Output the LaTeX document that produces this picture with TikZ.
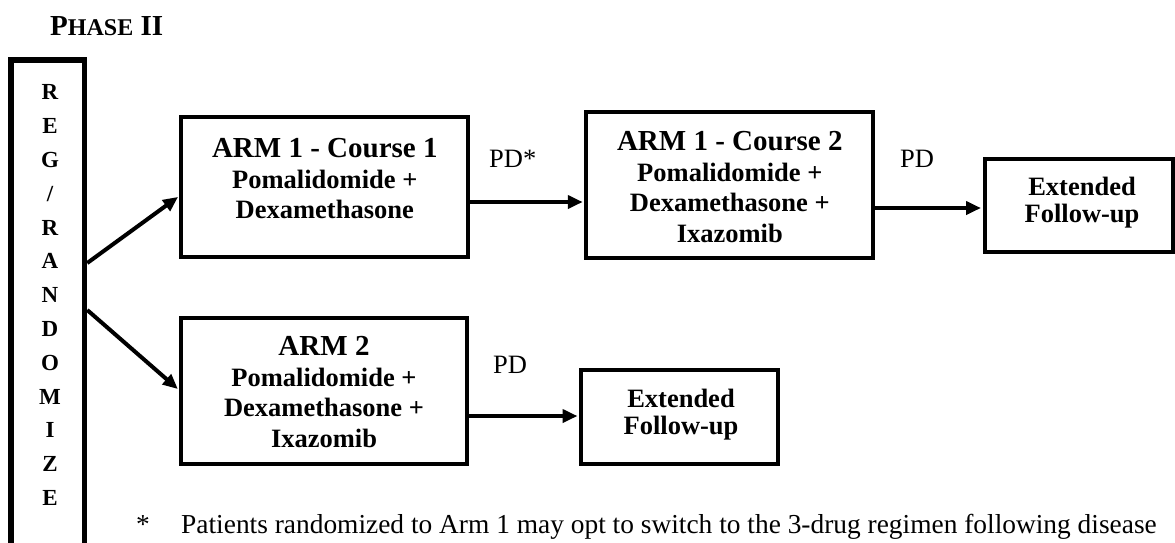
\documentclass[tikz,border=0pt]{standalone}
\usepackage{fontspec}
\setmainfont{Liberation Serif}
\usetikzlibrary{arrows.meta,calc}
\newcommand\armtitlefont{\fontsize{29}{30.5}\selectfont}
\begin{document}
\begin{tikzpicture}[x=1pt,y=-1pt,
  box/.style={draw,line width=4pt,rectangle,inner sep=0pt},
  arr/.style={line width=4pt,-{Triangle[length=15pt,width=13pt]},shorten >=1.5pt},
  txt/.style={inner sep=0pt,align=center,font=\fontsize{26.5}{30.5}\selectfont\bfseries},
  exttxt/.style={inner sep=0pt,align=center,font=\fontsize{26.5}{27}\selectfont\bfseries},
  lbl/.style={inner sep=0pt,font=\fontsize{26.5}{30}\selectfont},
  note/.style={inner sep=0pt,font=\fontsize{27.4}{30}\selectfont}]
\useasboundingbox (0,0) rectangle (1175,542);
\clip (0,0) rectangle (1175,542);
\fill[white] (0,0) rectangle (1175,542);
% title
\node[anchor=base west,inner sep=0pt,font=\bfseries] (phase) at (50,35)
  {\fontsize{29}{30}\selectfont P\fontsize{24}{30}\selectfont HASE\fontsize{29}{30}\selectfont\ II};
% register / randomize column
\node[draw,line width=5.5pt,minimum width=73.5pt,minimum height=560pt,inner sep=0pt] (reg) at (47.75,340) {};
\node[inner sep=0pt,align=center,font=\fontsize{23}{33.8}\selectfont\bfseries] (letters) at (50,295.2)
  {R\\E\\G\\/\\R\\A\\N\\D\\O\\M\\I\\Z\\E};
% boxes
\node[box,minimum width=287pt,minimum height=139.8pt] (a1) at (324.8,187.1) {};
\node[box,minimum width=287.1pt,minimum height=146pt] (a2) at (729.8,185.3) {};
\node[box,minimum width=188pt,minimum height=93pt] (e1) at (1078.5,205) {};
\node[box,minimum width=286pt,minimum height=146.5pt] (b1) at (324,390.75) {};
\node[box,minimum width=197pt,minimum height=94pt] (e2) at (679.5,417) {};
% box texts
\node[txt] (a1t) at (324.8,178.7) {{\armtitlefont ARM 1 - Course 1}\\Pomalidomide +\\Dexamethasone};
\node[txt] (a2t) at (729.8,187) {{\armtitlefont ARM 1 - Course 2}\\Pomalidomide +\\Dexamethasone +\\Ixazomib};
\node[txt] (b1t) at (324,392) {{\armtitlefont ARM 2}\\Pomalidomide +\\Dexamethasone +\\Ixazomib};
\node[exttxt] (e1t) at (1082,202.5) {Extended\\Follow-up};
\node[exttxt] (e2t) at (681,414.5) {Extended\\Follow-up};
% labels
\node[lbl,anchor=base west] (pd1) at (489,167) {PD*};
\node[lbl,anchor=base west] (pd2) at (900,167) {PD};
\node[lbl,anchor=base west] (pd3) at (493,373) {PD};
% footnote
\node[note,anchor=base west] (star) at (136,533) {*};
\node[note,anchor=base west] (fn) at (181,533) {Patients randomized to Arm 1 may opt to switch to the 3-drug regimen following disease};
% connector levels
\coordinate (u1) at (0,263);
\coordinate (u2) at (0,196);
\coordinate (l1) at (0,310);
\coordinate (l2) at (0,390);
\coordinate (y1) at (0,202);
\coordinate (y2) at (0,208);
\coordinate (y3) at (0,416);
% connectors
\draw[arr] (reg.east |- u1) -- (a1.west |- u2);
\draw[arr] (reg.east |- l1) -- (b1.west |- l2);
\draw[arr] (a1.east |- y1) -- (a2.west |- y1);
\draw[arr] (a2.east |- y2) -- (e1.west |- y2);
\draw[arr] (b1.east |- y3) -- (e2.west |- y3);
\end{tikzpicture}
\end{document}
